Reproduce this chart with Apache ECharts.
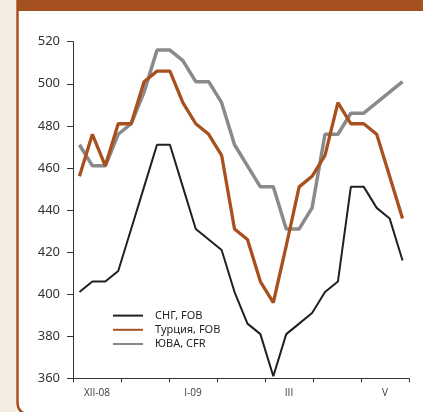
<!DOCTYPE html>
<html>
<head>
<meta charset="utf-8">
<script src="https://cdn.jsdelivr.net/npm/echarts@6/dist/echarts.min.js"></script>
<style>
  html, body { margin: 0; padding: 0; background: #ffffff; overflow: hidden; }
  #chart { width: 423px; height: 412px; }
</style>
</head>
<body>
<div id="chart"></div>
<script>
// Month labels along the bottom axis (one slot per tick interval)
const monthLabels = ['XII-08', '', 'I-09', '', 'III', '', 'V'];

// Weekly observations
const weeks = ['1', '2', '3', '4', '5', '6', '7', '8', '9', '10', '11', '12', '13',
               '14', '15', '16', '17', '18', '19', '20', '21', '22', '23', '24', '25', '26'];

// Prices, $/t
const cisFob    = [401, 406, 406, 411, 431, 451, 471, 471, 451, 431, 426, 421, 401,
                   386, 381, 361, 381, 386, 391, 401, 406, 451, 451, 441, 436, 416];
const turkeyFob = [456, 476, 461, 481, 481, 501, 506, 506, 491, 481, 476, 466, 431,
                   426, 406, 396, 423, 451, 456, 466, 491, 481, 481, 476, 456, 436];
const seaCfr    = [471, 461, 461, 476, 481, 496, 516, 516, 511, 501, 501, 491, 471,
                   461, 451, 451, 431, 431, 441, 476, 476, 486, 486, 491, 496, 501];

const yTicks = { min: 360, max: 520, step: 20 };

const names = ['СНГ, FOB', 'Турция, FOB', 'ЮВА, CFR'];
const colors = { cis: '#231f20', turkey: '#a8511f', sea: '#8a8a8c' };
const axisColor = '#333333';
const frameColor = '#a8511f';
const font = "'Noto Sans', 'DejaVu Sans', sans-serif";

const chart = echarts.init(document.getElementById('chart'), null, { renderer: 'canvas' });

chart.setOption({
  animation: false,
  backgroundColor: '#ffffff',
  textStyle: { fontFamily: font },
  graphic: {
    elements: [
      // beige margin on the left
      { type: 'rect', z: -10, silent: true, shape: { x: 0, y: 0, width: 16.5, height: 412 },
        style: { fill: '#f3ece0' } },
      // left edge of the framed panel
      { type: 'line', z: -9, silent: true, shape: { x1: 17.5, y1: 0, x2: 17.5, y2: 402 },
        style: { stroke: frameColor, lineWidth: 2.5 } },
      // its rounded lower corner
      { type: 'bezierCurve', z: -9, silent: true,
        shape: { x1: 17.5, y1: 402, cpx1: 17.5, cpy1: 414, x2: 29.5, y2: 414 },
        style: { fill: null, stroke: frameColor, lineWidth: 2.5 } },
      // header band
      { type: 'rect', z: -8, silent: true, shape: { x: 17, y: 0, width: 406, height: 11 },
        style: { fill: '#a5501f' } }
    ]
  },
  grid: { left: 73, right: 14, top: 41.7, bottom: 33.7, containLabel: false, show: false },
  legend: {
    data: names,
    orient: 'vertical',
    left: 107,
    top: 305,
    itemWidth: 30,
    itemHeight: 14,
    itemGap: 3,
    itemStyle: { opacity: 0 },
    textStyle: { fontFamily: font, fontSize: 11, color: '#231f20', padding: [0, 0, 0, 7] }
  },
  xAxis: [
    {
      type: 'category',
      data: monthLabels,
      boundaryGap: true,
      axisLine: { lineStyle: { color: axisColor, width: 1 } },
      axisTick: { show: true, length: 4, alignWithLabel: false, lineStyle: { color: axisColor } },
      axisLabel: { interval: 0, fontFamily: 'Open Sans', fontSize: 10, color: '#3a3a3a', margin: 10 },
      splitLine: { show: false }
    },
    {
      type: 'category',
      data: weeks,
      boundaryGap: true,
      show: false,
      position: 'bottom'
    }
  ],
  yAxis: {
    type: 'value',
    min: yTicks.min,
    max: yTicks.max,
    interval: yTicks.step,
    axisLine: { show: true, lineStyle: { color: axisColor, width: 1 } },
    axisTick: { show: true, length: 6, lineStyle: { color: axisColor } },
    axisLabel: { fontFamily: font, fontSize: 13, color: '#333333', margin: 13 },
    splitLine: { show: false }
  },
  series: [
    {
      name: names[0], type: 'line', xAxisIndex: 1, data: cisFob,
      symbol: 'none', z: 3,
      lineStyle: { color: colors.cis, width: 2 }, itemStyle: { color: colors.cis }
    },
    {
      name: names[2], type: 'line', xAxisIndex: 1, data: seaCfr,
      symbol: 'none', z: 4,
      lineStyle: { color: colors.sea, width: 3.5 }, itemStyle: { color: colors.sea }
    },
    {
      name: names[1], type: 'line', xAxisIndex: 1, data: turkeyFob,
      symbol: 'none', z: 5,
      lineStyle: { color: colors.turkey, width: 3.3 }, itemStyle: { color: colors.turkey }
    }
  ]
});
</script>
</body>
</html>
